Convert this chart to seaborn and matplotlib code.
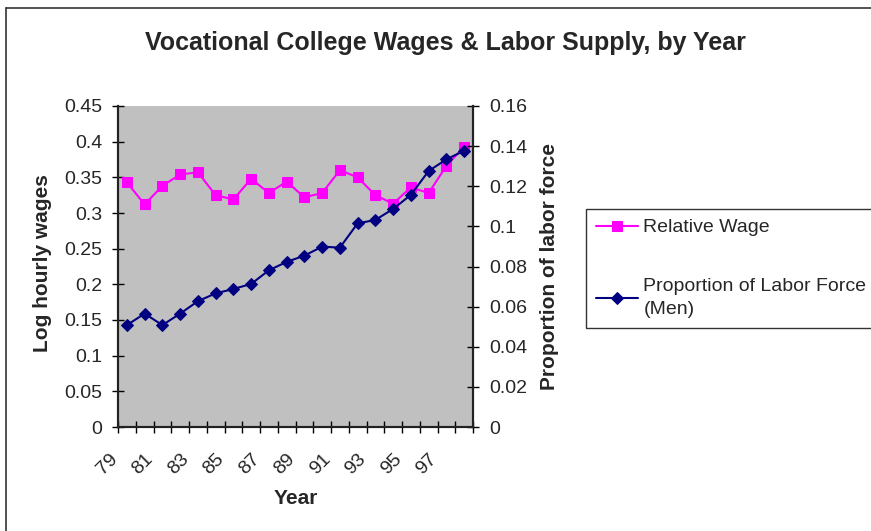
import matplotlib
matplotlib.use("Agg")
import matplotlib.pyplot as plt
import numpy as np
import pandas as pd
import seaborn as sns
from matplotlib.lines import Line2D
from matplotlib.transforms import ScaledTranslation

# Data
years = list(range(79, 99))
relative_wage = [0.343, 0.312, 0.338, 0.354, 0.357, 0.325, 0.319, 0.348, 0.328, 0.344,
                 0.322, 0.328, 0.360, 0.350, 0.325, 0.313, 0.336, 0.328, 0.366, 0.393]
labor_share = [0.0508, 0.0565, 0.0508, 0.0565, 0.0627, 0.0666, 0.0688, 0.0713, 0.0781, 0.0823,
               0.0854, 0.0899, 0.0894, 0.1015, 0.1032, 0.1087, 0.1157, 0.1276, 0.1334, 0.1377]
year_labels = [str(y) for y in years[:-1:2]]
left_ticks = [0, 0.05, 0.1, 0.15, 0.2, 0.25, 0.3, 0.35, 0.4, 0.45]
right_ticks = [0, 0.02, 0.04, 0.06, 0.08, 0.1, 0.12, 0.14, 0.16]

sns.set_theme(style="white")
plt.rcParams['font.family'] = ['Liberation Sans', 'DejaVu Sans']

df = pd.DataFrame({'pos': np.arange(len(years)), 'wage': relative_wage, 'share': labor_share})

fig = plt.figure(figsize=(8.71, 5.31), dpi=100)
ax = fig.add_axes([118 / 871, 1 - 427 / 531, 355 / 871, 321 / 531])
ax2 = ax.twinx()
ax.set_facecolor('#C0C0C0')

sns.lineplot(data=df, x='pos', y='wage', ax=ax, color='#FF00FF', marker='s', markersize=7.7,
             markeredgecolor='#FF00FF', linewidth=1.5, label='Relative Wage', legend=False)
sns.lineplot(data=df, x='pos', y='share', ax=ax2, color='#000080', marker='D', markersize=5.8,
             markeredgecolor='#000080', linewidth=1.5, label='Proportion of Labor Force\n(Men)',
             legend=False)

ax.set_xlim(-0.5, len(years) - 0.5)
ax.set_ylim(0, 0.45)
ax2.set_ylim(0, 0.16)
ax.set_yticks(left_ticks)
ax.set_yticklabels([f'{v:g}' for v in left_ticks])
ax2.set_yticks(right_ticks)
ax2.set_yticklabels([f'{v:g}' for v in right_ticks])

ax.set_xticks(np.arange(0, len(years) - 1, 2))
ax.set_xticklabels(year_labels, rotation=45, ha='right', va='top')
ax.set_xticks(np.arange(-0.5, len(years)), minor=True)
ax.tick_params(axis='x', which='major', length=0, labelsize=14, pad=17)
ax.tick_params(axis='x', which='minor', direction='inout', length=9, width=1, color='black', bottom=True)
ax.tick_params(axis='y', direction='inout', length=9, width=1, color='black', labelsize=14, pad=7, left=True)
ax2.tick_params(axis='y', direction='inout', length=9, width=1, color='black', labelsize=14, pad=7.5, right=True)
shift = ScaledTranslation(-6 / 100, 0, fig.dpi_scale_trans)
for lbl in ax.get_xticklabels():
    lbl.set_transform(lbl.get_transform() + shift)

for a in (ax, ax2):
    a.spines['top'].set_visible(False)
    for s in ('left', 'right', 'bottom'):
        a.spines[s].set_color('#222222')
        a.spines[s].set_linewidth(1.5)
    a.grid(False)
    a.set_xlabel('')
    a.set_ylabel('')

ax.set_xlabel('Year', fontsize=15, fontweight='bold')
ax.xaxis.label.set_va('center')
ax.xaxis.set_label_coords((296 - 118) / 355, (427 - 498) / 321)
ax.set_ylabel('Log hourly wages', fontsize=15, fontweight='bold')
ax.yaxis.label.set(va='center', ha='center')
ax.yaxis.set_label_coords((43 - 118) / 355, 0.51)
ax2.set_ylabel('Proportion of labor force', fontsize=15, fontweight='bold')
ax2.yaxis.label.set(va='center', ha='center')
ax2.yaxis.set_label_coords((549 - 118) / 355, 0.5)

fig.text(445.5 / 871, 1 - 43 / 531, 'Vocational College Wages & Labor Supply, by Year',
         ha='center', va='center', fontsize=18, fontweight='bold')

h1, l1 = ax.get_legend_handles_labels()
h2, l2 = ax2.get_legend_handles_labels()
leg = fig.legend(h1 + h2, l1 + l2, loc='upper left', bbox_to_anchor=(586 / 871, 1 - 209 / 531),
                 fontsize=14, frameon=True, fancybox=False, labelspacing=2.15, handlelength=2.15,
                 handletextpad=0.3, borderpad=0.5, borderaxespad=0)
leg.get_frame().set_edgecolor('black')
leg.get_frame().set_linewidth(1)
for t in leg.get_texts():
    t.set_linespacing(1.45)

# chart area border (only left and top edges fall inside the image)
x0, y0 = 6 / 871, 1 - 8 / 531
fig.lines.append(Line2D([x0, x0], [0, y0], transform=fig.transFigure, color='#333333', linewidth=1.2))
fig.lines.append(Line2D([x0, 1], [y0, y0], transform=fig.transFigure, color='#333333', linewidth=1.2))

fig.savefig('out.png', dpi=100)
